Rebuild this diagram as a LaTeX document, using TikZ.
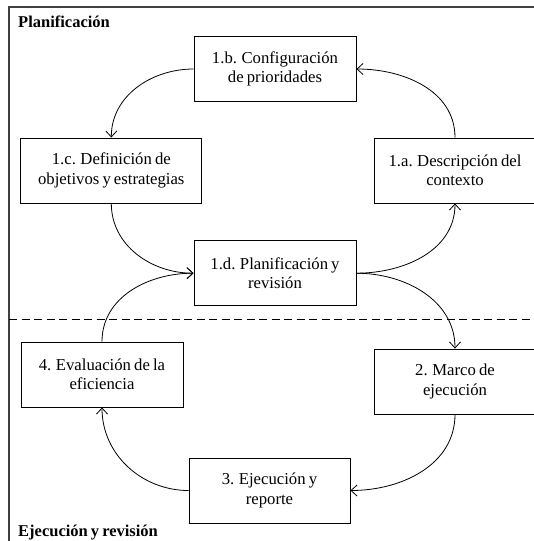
\documentclass[tikz,border=0pt]{standalone}
\usepackage{fontspec}
\setmainfont[WordSpace=0.75]{Liberation Serif}
\usetikzlibrary{arrows.meta}
\begin{document}
\begin{tikzpicture}[x=1pt,y=-1pt,
  stage/.style={draw=black,line width=0.9pt,minimum width=162pt,minimum height=65pt,
    align=center,inner sep=0pt,font=\fontsize{16.7}{19.5}\selectfont},
  title/.style={anchor=base west,inner sep=0pt,font=\fontsize{16.5}{19.5}\selectfont\bfseries},
  flow/.style={line width=0.8pt,-{Straight Barb[length=6pt,width=11pt,line width=0.8pt]}},
  frame/.style={draw=black!75,line width=1.2pt}]
\useasboundingbox (0,0) rectangle (534,541);
\clip (0,0) rectangle (534,541);
% frame and separator
\draw[frame] (9,550) -- (9,7) -- (540,7);
\draw[line width=0.8pt,dash pattern=on 8pt off 4.5pt] (9,319) -- (540,319);
% titles
\node[title] (t1) at (18,27.5) {Planificación};
\node[title] (t2) at (18,536) {Ejecución y revisión};
% stages
\node[stage] (b) at (275,69) {1.b. Configuración\\de prioridades};
\node[stage,minimum width=181pt] (c) at (111.3,170.5) {1.c. Definición de\\objetivos y estrategias};
\node[stage] (a) at (455,170.5) {1.a. Descripción del\\contexto};
\node[stage] (d) at (275,273.2) {1.d. Planificación y\\revisión};
\node[stage] (e4) at (102,374.5) {4. Evaluación de la\\eficiencia};
\node[stage] (e2) at (455,381.5) {2. Marco de\\ejecución};
\node[stage,minimum width=161pt] (e3) at (269.5,490.5) {3. Ejecución y\\reporte};
% connectors
\draw[flow] (a.north) to[out=90,in=0] (b.east);
\draw[flow] (b.west) to[out=180,in=90] (c.north);
\draw[flow] (c.south) to[out=-90,in=180] (d.west);
\draw[flow] (e4.north) to[out=90,in=180] (d.west);
\draw[flow] (d.east) to[out=0,in=-90] (a.south);
\draw[flow] (d.east) to[out=0,in=90] (e2.north);
\draw[flow] (e2.south) to[out=-90,in=0] (e3.east);
\draw[flow] (e3.west) to[out=180,in=-90] (e4.south);
\end{tikzpicture}
\end{document}
